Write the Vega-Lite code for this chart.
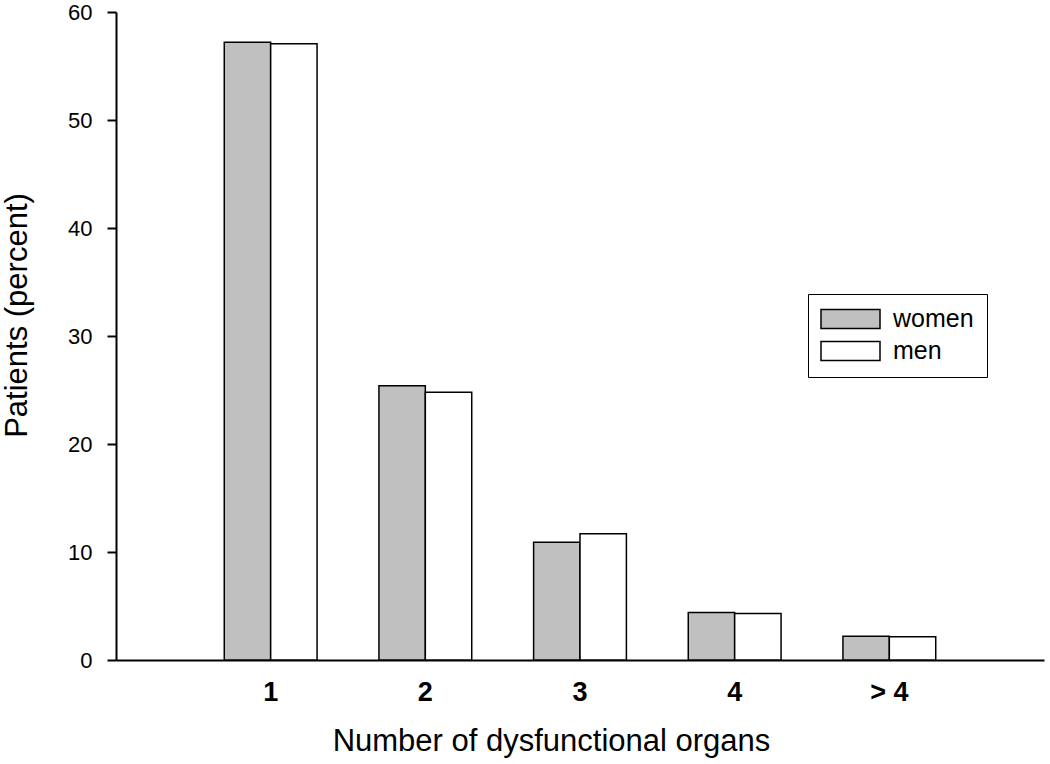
{
  "$schema": "https://vega.github.io/schema/vega-lite/v6.json",
  "width": 928,
  "height": 648,
  "autosize": {"type": "none"},
  "padding": {"left": 116, "top": 12, "right": 6, "bottom": 104},
  "background": "white",
  "config": {
    "view": {"stroke": null},
    "font": "Liberation Sans",
    "axis": {"grid": false, "domainColor": "black", "domainWidth": 2, "tickColor": "black", "tickWidth": 2, "labelColor": "black", "titleColor": "black", "titleFont": "Liberation Sans", "labelFont": "Liberation Sans", "titleFontWeight": "normal"}
  },
  "data": {
    "values": [
      {"organs": "1", "sex": "women", "percent": 57.2},
      {"organs": "1", "sex": "men", "percent": 57.05},
      {"organs": "2", "sex": "women", "percent": 25.4},
      {"organs": "2", "sex": "men", "percent": 24.8},
      {"organs": "3", "sex": "women", "percent": 10.9},
      {"organs": "3", "sex": "men", "percent": 11.7},
      {"organs": "4", "sex": "women", "percent": 4.4},
      {"organs": "4", "sex": "men", "percent": 4.3},
      {"organs": "> 4", "sex": "women", "percent": 2.2},
      {"organs": "> 4", "sex": "men", "percent": 2.15}
    ]
  },
  "mark": {"type": "bar", "stroke": "black", "strokeWidth": 1.5},
  "encoding": {
    "x": {
      "field": "organs", "type": "nominal", "sort": ["1", "2", "3", "4", "> 4"],
      "scale": {"paddingInner": 0.4, "paddingOuter": 0.7},
      "axis": {"title": "Number of dysfunctional organs", "titleFontSize": 31, "titleX": 435, "titleY": 90, "titleBaseline": "alphabetic", "titleAnchor": null,
        "labelAngle": 0, "labelFontSize": 27, "labelFontWeight": "bold", "ticks": false, "tickSize": 0, "labelPadding": 40, "labelBaseline": "alphabetic"}
    },
    "xOffset": {"field": "sex", "type": "nominal", "sort": ["women", "men"], "scale": {"paddingInner": 0, "paddingOuter": 0}},
    "y": {
      "field": "percent", "type": "quantitative",
      "scale": {"domain": [0, 60], "nice": false},
      "axis": {"title": "Patients (percent)", "titleFontSize": 31, "titleX": -99, "titleY": 303, "titleBaseline": "middle", "titleAnchor": null,
        "values": [0, 10, 20, 30, 40, 50, 60], "labelFontSize": 22, "tickSize": 9, "labelPadding": 15}
    },
    "fill": {
      "field": "sex", "type": "nominal",
      "scale": {"domain": ["women", "men"], "range": ["#c0c0c0", "#ffffff"]},
      "legend": {"title": null, "orient": "none", "legendX": 692, "legendY": 282,
        "strokeColor": "black", "fillColor": "white", "padding": 12.5,
        "symbolType": "M-2.95,-0.95H2.95V0.95H-2.95Z", "symbolSize": 400,
        "symbolStrokeColor": "black", "symbolStrokeWidth": 1.5,
        "labelFontSize": 25, "labelFont": "Liberation Sans", "labelColor": "black",
        "labelOffset": 30, "rowPadding": 6, "symbolOffset": 17.5}
    }
  }
}
